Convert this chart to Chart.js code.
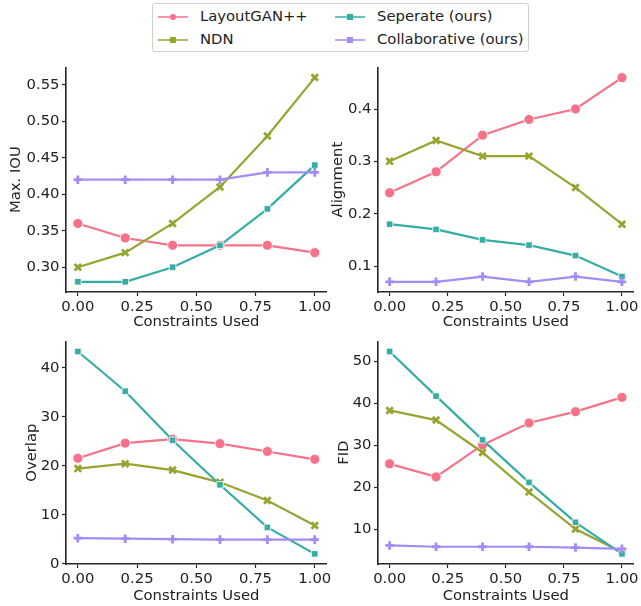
<!DOCTYPE html>
<html>
<head>
<script src="https://cdn.jsdelivr.net/npm/chart.js"></script>
<style>
    body { margin: 0; background: #fff; width: 641px; height: 606px; position: relative; overflow: hidden; font-family: 'DejaVu Sans', sans-serif; }
    canvas { position: absolute; }
    #legend { position: absolute; left: 152px; top: 3px; width: 377px; height: 49px; border: 1px solid #d0d0d0; border-radius: 3px; box-sizing: border-box; font-size: 14.8px; color: #222; }
    .item { position: absolute; height: 20px; line-height: 20px; white-space: nowrap; }
    .line { position: absolute; top: 9px; width: 30px; height: 2px; opacity: 0.75; }
    .dot { position: absolute; top: 7px; left: 12px; width: 6px; height: 6px; }
    .txt { position: absolute; left: 42px; top: -1px; }
</style>
</head>
<body>

<div id="legend"></div>
<canvas id="iouChart"></canvas>
<canvas id="alignChart"></canvas>
<canvas id="overlapChart"></canvas>
<canvas id="fidChart"></canvas>

<script type="text/javascript">
    // constraint ratio on the x axis
    const xValues = [0.0, 0.2, 0.4, 0.6, 0.8, 1.0];
    const xTicks = [0.0, 0.25, 0.5, 0.75, 1.0];

    const seriesNames = ['LayoutGAN++', 'NDN', 'Seperate (ours)', 'Collaborative (ours)'];

    // Max. IOU
    const iouLayoutGan = [0.36, 0.34, 0.33, 0.33, 0.33, 0.32];
    const iouNdn       = [0.30, 0.32, 0.36, 0.41, 0.48, 0.56];
    const iouSeperate  = [0.28, 0.28, 0.30, 0.33, 0.38, 0.44];
    const iouCollab    = [0.42, 0.42, 0.42, 0.42, 0.43, 0.43];
    const iouTicks = [0.30, 0.35, 0.40, 0.45, 0.50, 0.55];

    // Alignment
    const alignLayoutGan = [0.24, 0.28, 0.35, 0.38, 0.40, 0.46];
    const alignNdn       = [0.30, 0.34, 0.31, 0.31, 0.25, 0.18];
    const alignSeperate  = [0.18, 0.17, 0.15, 0.14, 0.12, 0.08];
    const alignCollab    = [0.07, 0.07, 0.08, 0.07, 0.08, 0.07];
    const alignTicks = [0.1, 0.2, 0.3, 0.4];

    // Overlap
    const overlapLayoutGan = [21.5, 24.6, 25.4, 24.5, 22.9, 21.3];
    const overlapNdn       = [19.4, 20.4, 19.1, 16.6, 12.9, 7.8];
    const overlapSeperate  = [43.3, 35.2, 25.2, 16.1, 7.4, 2.0];
    const overlapCollab    = [5.2, 5.1, 5.0, 4.9, 4.9, 4.9];
    const overlapTicks = [0, 10, 20, 30, 40];

    // FID
    const fidLayoutGan = [25.6, 22.5, 30.1, 35.3, 38.0, 41.4];
    const fidNdn       = [38.3, 36.0, 28.3, 18.9, 10.1, 4.6];
    const fidSeperate  = [52.3, 41.7, 31.3, 21.2, 11.7, 4.2];
    const fidCollab    = [6.2, 5.9, 5.9, 5.9, 5.7, 5.4];
    const fidTicks = [10, 20, 30, 40, 50];

    const colors = ['#f77189', '#97a431', '#36ada4', '#a48cf4'];
    const markers = ['circle', 'crossRot', 'rect', 'cross'];
    const radii = [5, 4.6, 4.6, 4.3];

    Chart.defaults.font.family = "'DejaVu Sans'";
    Chart.defaults.font.size = 14.8;
    Chart.defaults.color = '#222';

    function makeChart(id, box, yLabel, series, yTicks, yDecimals, yTitlePad, xTitlePad) {
        const canvas = document.getElementById(id);
        canvas.width = box.width;
        canvas.height = box.height;
        canvas.style.left = box.left + 'px';
        canvas.style.top = box.top + 'px';

        const all = [].concat(...series);
        const lo = Math.min(...all), hi = Math.max(...all);
        const m = (hi - lo) * 0.05;

        const datasets = series.map((vals, i) => ({
            label: seriesNames[i],
            data: vals.map((v, j) => ({x: xValues[j], y: v})),
            borderColor: colors[i],
            backgroundColor: colors[i],
            borderWidth: 2.2,
            pointStyle: markers[i],
            pointRadius: radii[i],
            pointBackgroundColor: colors[i],
            pointBorderColor: (markers[i] == 'cross' || markers[i] == 'crossRot') ? colors[i] : '#fff',
            pointBorderWidth: (markers[i] == 'cross' || markers[i] == 'crossRot') ? 2.8 : 0.8,
            order: 3 - i,
            clip: false
        }));

        const gridOpts = {display: true, drawOnChartArea: false, drawTicks: true, tickLength: 4, tickColor: '#262626', tickWidth: 1.2};
        const borderOpts = {display: true, color: '#262626', width: 1.6};

        return new Chart(canvas, {
            type: 'line',
            data: {datasets: datasets},
            options: {
                responsive: false,
                animation: false,
                events: [],
                layout: {padding: {top: box.areaTop - box.top, right: box.left + box.width - box.areaRight, left: 0, bottom: 0}},
                plugins: {legend: {display: false}, tooltip: {enabled: false}},
                scales: {
                    x: {
                        type: 'linear',
                        min: -0.05, max: 1.05,
                        grid: gridOpts,
                        border: borderOpts,
                        afterBuildTicks: (s) => { s.ticks = xTicks.map(v => ({value: v})); },
                        afterFit: (s) => { s.height = box.top + box.height - box.areaBottom; },
                        ticks: {maxRotation: 0, autoSkip: false, padding: 2, callback: (v) => v.toFixed(2)},
                        title: {display: true, text: 'Constraints Used', padding: {top: 0, bottom: xTitlePad}}
                    },
                    y: {
                        type: 'linear',
                        min: lo - m, max: hi + m,
                        grid: gridOpts,
                        border: borderOpts,
                        afterBuildTicks: (s) => { s.ticks = yTicks.map(v => ({value: v})); },
                        afterFit: (s) => { s.width = box.areaLeft - box.left; },
                        ticks: {autoSkip: false, padding: 2.5, callback: (v) => v.toFixed(yDecimals)},
                        title: {display: true, text: yLabel, padding: {top: yTitlePad, bottom: 0}}
                    }
                }
            }
        });
    }

    makeChart('iouChart',
        {left: 0, top: 56, width: 334, height: 280, areaLeft: 66, areaTop: 66, areaRight: 327, areaBottom: 292},
        'Max. IOU', [iouLayoutGan, iouNdn, iouSeperate, iouCollab], iouTicks, 2, 7.5, 4.5);

    makeChart('alignChart',
        {left: 320, top: 56, width: 321, height: 280, areaLeft: 378, areaTop: 66, areaRight: 638, areaBottom: 292},
        'Alignment', [alignLayoutGan, alignNdn, alignSeperate, alignCollab], alignTicks, 1, 9, 4.5);

    makeChart('overlapChart',
        {left: 0, top: 330, width: 334, height: 276, areaLeft: 66, areaTop: 338, areaRight: 327, areaBottom: 564},
        'Overlap', [overlapLayoutGan, overlapNdn, overlapSeperate, overlapCollab], overlapTicks, 0, 23.5, 1);

    makeChart('fidChart',
        {left: 320, top: 330, width: 321, height: 276, areaLeft: 378, areaTop: 338, areaRight: 638, areaBottom: 564},
        'FID', [fidLayoutGan, fidNdn, fidSeperate, fidCollab], fidTicks, 0, 15, 1);

    // legend box at the top
    const legend = document.getElementById('legend');
    const legendPos = [[5, 3], [5, 26], [182, 3], [182, 26]];
    seriesNames.forEach((name, i) => {
        const item = document.createElement('div');
        item.className = 'item';
        item.style.left = legendPos[i][0] + 'px';
        item.style.top = legendPos[i][1] + 'px';
        const line = document.createElement('div');
        line.className = 'line';
        line.style.background = colors[i];
        const dot = document.createElement('div');
        dot.className = 'dot';
        dot.style.background = colors[i];
        if (markers[i] == 'circle') dot.style.borderRadius = '50%';
        const txt = document.createElement('div');
        txt.className = 'txt';
        txt.textContent = name;
        item.appendChild(line);
        item.appendChild(dot);
        item.appendChild(txt);
        legend.appendChild(item);
    });
</script>
</body>
</html>
